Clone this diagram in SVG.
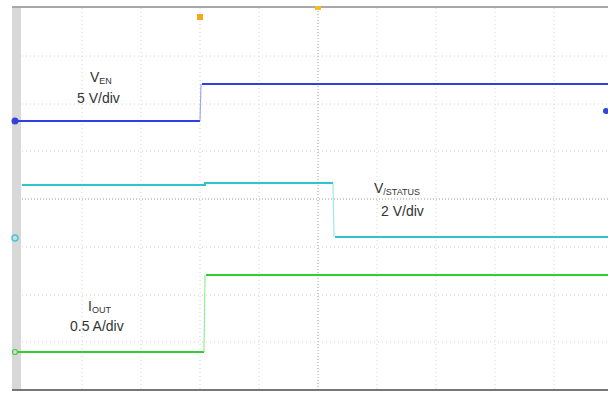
<svg xmlns="http://www.w3.org/2000/svg" width="608" height="394" viewBox="0 0 608 394">
<defs>
<style>
.grid{stroke:#d4d4d4;stroke-width:1;stroke-dasharray:1 3;fill:none}
.axis{stroke:#9a9a9a;stroke-width:1;stroke-dasharray:1 2;fill:none}
.lbl{font-family:"Liberation Sans",Arial,sans-serif;font-size:14px;fill:#333}
.sub{font-size:9px}
.tr{fill:none;stroke-width:2.2}
.edge{fill:none;stroke-width:1.2;opacity:0.6}
</style>
</defs>
<rect width="608" height="394" fill="#fff"/>
<g id="grid">
<line class="grid" x1="82" y1="8" x2="82" y2="390"/>
<line class="grid" x1="141" y1="8" x2="141" y2="390"/>
<line class="grid" x1="200" y1="8" x2="200" y2="390"/>
<line class="grid" x1="259" y1="8" x2="259" y2="390"/>
<line class="grid" x1="377" y1="8" x2="377" y2="390"/>
<line class="grid" x1="436" y1="8" x2="436" y2="390"/>
<line class="grid" x1="495" y1="8" x2="495" y2="390"/>
<line class="grid" x1="554" y1="8" x2="554" y2="390"/>
<line class="grid" x1="22" y1="56" x2="608" y2="56"/>
<line class="grid" x1="22" y1="104" x2="608" y2="104"/>
<line class="grid" x1="22" y1="151" x2="608" y2="151"/>
<line class="grid" x1="22" y1="247" x2="608" y2="247"/>
<line class="grid" x1="22" y1="295" x2="608" y2="295"/>
<line class="grid" x1="22" y1="342" x2="608" y2="342"/>
<line class="axis" x1="318" y1="8" x2="318" y2="390"/>
<line class="axis" x1="22" y1="199" x2="608" y2="199"/>
<rect x="12" y="7" width="9" height="384" fill="#d8d8d8"/>
<line x1="12" y1="7" x2="608" y2="7" stroke="#a8a8a8" stroke-width="2"/>
<line x1="12" y1="390" x2="608" y2="390" stroke="#777" stroke-width="2"/>
</g>
<g id="markers">
<rect x="197" y="14" width="6" height="6" fill="#f5a623"/>
<rect x="315" y="6" width="6" height="4" fill="#f0c020"/>
<circle cx="15" cy="121" r="3.5" fill="#3344dd"/>
<circle cx="15" cy="238" r="3" fill="none" stroke="#40c8d8" stroke-width="1.5"/>
<circle cx="15" cy="352" r="2.5" fill="none" stroke="#40d040" stroke-width="1.2"/>
<circle cx="606" cy="111" r="3" fill="#3344dd"/>
</g>
<g id="connectors">
<polyline class="tr" stroke="#2f3fe0" points="15,121 200,121"/>
<line class="edge" stroke="#6070f0" x1="200" y1="121" x2="201" y2="84"/>
<polyline class="tr" stroke="#2f3fe0" points="202,84 608,84"/>
<polyline class="tr" stroke="#30c4d0" points="22,185 205,185 205,183 333,183"/>
<line class="edge" stroke="#60d8e0" x1="333" y1="183" x2="334" y2="237"/>
<polyline class="tr" stroke="#30c4d0" points="335,237 608,237"/>
<polyline class="tr" stroke="#30d030" points="18,352 204,352"/>
<line class="edge" stroke="#50e050" x1="204" y1="352" x2="205" y2="275"/>
<polyline class="tr" stroke="#30d030" points="206,275 608,275"/>
</g>
<g id="label-ven">
<text class="lbl" x="90" y="82">V<tspan class="sub" dy="2">EN</tspan></text>
<text class="lbl" x="77" y="103">5 V/div</text>
</g>
<g id="label-vstatus">
<text class="lbl" x="374" y="193">V<tspan class="sub" dy="2">/STATUS</tspan></text>
<text class="lbl" x="381" y="216">2 V/div</text>
</g>
<g id="label-iout">
<text class="lbl" x="88" y="311">I<tspan class="sub" dy="2">OUT</tspan></text>
<text class="lbl" x="70" y="331">0.5 A/div</text>
</g>
</svg>
